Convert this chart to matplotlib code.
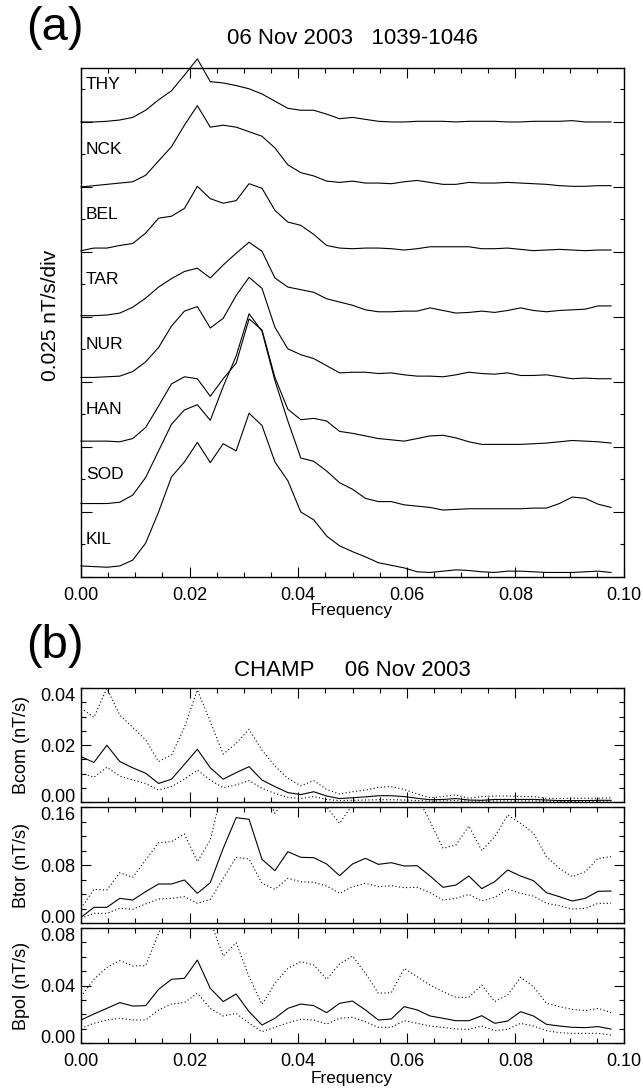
import numpy as np
import matplotlib
matplotlib.use("Agg")
import matplotlib.pyplot as plt
import matplotlib.transforms as mtransforms
from matplotlib.ticker import MultipleLocator, FormatStrFormatter

plt.rcParams['font.family'] = ['Liberation Sans', 'DejaVu Sans']

# frequency grid of the spectra (7-min window)
freq = np.arange(42) / 420.0

# ground stations, amplitude in divisions above each trace baseline (1 div = 0.025 nT/s)
div = 0.025
stations = ['KIL', 'SOD', 'HAN', 'NUR', 'TAR', 'BEL', 'NCK', 'THY']
kil = [0.17, 0.16, 0.15, 0.17, 0.26, 0.52, 1.00, 1.54, 1.77, 2.07, 1.76, 2.05, 1.94, 2.52, 2.33, 1.77, 1.48, 1.00, 0.88, 0.63, 0.48,
       0.39, 0.31, 0.22, 0.18, 0.14, 0.08, 0.07, 0.09, 0.11, 0.10, 0.08, 0.07, 0.09, 0.09, 0.08, 0.07, 0.07, 0.07, 0.08, 0.09, 0.07]
sod = [0.13, 0.13, 0.13, 0.15, 0.26, 0.53, 0.94, 1.35, 1.57, 1.65, 1.41, 1.93, 2.40, 3.05, 2.78, 2.02, 1.40, 0.83, 0.78, 0.63, 0.45,
       0.35, 0.21, 0.16, 0.16, 0.11, 0.09, 0.07, 0.03, 0.04, 0.05, 0.05, 0.05, 0.05, 0.05, 0.06, 0.06, 0.13, 0.23, 0.21, 0.12, 0.07]
han = [0.09, 0.09, 0.09, 0.08, 0.13, 0.30, 0.63, 0.97, 1.08, 1.05, 0.78, 1.05, 1.29, 1.97, 1.80, 1.07, 0.58, 0.42, 0.44, 0.40, 0.24,
       0.21, 0.17, 0.13, 0.11, 0.09, 0.13, 0.17, 0.18, 0.14, 0.08, 0.04, 0.04, 0.04, 0.04, 0.05, 0.06, 0.08, 0.10, 0.09, 0.08, 0.06]
nur = [0.07, 0.07, 0.08, 0.09, 0.16, 0.31, 0.53, 0.86, 1.09, 1.16, 0.83, 0.98, 1.33, 1.61, 1.44, 0.84, 0.51, 0.42, 0.36, 0.25, 0.14,
       0.15, 0.15, 0.13, 0.14, 0.11, 0.09, 0.09, 0.08, 0.11, 0.15, 0.13, 0.12, 0.14, 0.10, 0.10, 0.11, 0.08, 0.05, 0.06, 0.05, 0.05]
tar = [0.02, 0.02, 0.03, 0.06, 0.15, 0.29, 0.46, 0.59, 0.70, 0.75, 0.60, 0.80, 0.98, 1.15, 1.01, 0.60, 0.46, 0.42, 0.38, 0.28, 0.23,
       0.18, 0.11, 0.08, 0.08, 0.09, 0.09, 0.14, 0.10, 0.06, 0.07, 0.09, 0.07, 0.10, 0.14, 0.10, 0.08, 0.10, 0.11, 0.12, 0.17, 0.17]
bel = [0.02, 0.06, 0.06, 0.10, 0.13, 0.29, 0.52, 0.55, 0.67, 1.01, 0.82, 0.75, 0.79, 1.05, 0.98, 0.64, 0.46, 0.41, 0.27, 0.10, 0.06,
       0.05, 0.06, 0.06, 0.05, 0.03, 0.05, 0.08, 0.08, 0.08, 0.08, 0.05, 0.05, 0.06, 0.04, 0.02, 0.03, 0.04, 0.03, 0.02, 0.03, 0.03]
nck = [0.00, 0.02, 0.04, 0.06, 0.08, 0.18, 0.40, 0.62, 0.95, 1.25, 0.92, 0.95, 0.92, 0.85, 0.78, 0.60, 0.34, 0.22, 0.17, 0.09, 0.07,
       0.09, 0.06, 0.06, 0.05, 0.08, 0.10, 0.07, 0.04, 0.04, 0.07, 0.06, 0.06, 0.07, 0.06, 0.05, 0.04, 0.02, 0.01, 0.01, 0.02, 0.02]
thy = [0.00, 0.00, 0.01, 0.03, 0.07, 0.18, 0.34, 0.48, 0.72, 0.97, 0.62, 0.60, 0.56, 0.51, 0.43, 0.32, 0.21, 0.18, 0.18, 0.12, 0.05,
       0.07, 0.04, 0.01, 0.00, 0.00, 0.01, 0.01, 0.01, 0.00, 0.01, 0.01, 0.01, 0.00, 0.00, 0.01, 0.01, 0.01, 0.02, 0.00, 0.00, 0.00]
ground = [kil, sod, han, nur, tar, bel, nck, thy]

# CHAMP spectra (nT/s): median and bounds
bcom = [0.0159, 0.0139, 0.0199, 0.0142, 0.0120, 0.0101, 0.0065, 0.0080, 0.0132, 0.0185, 0.0120, 0.0080, 0.0103, 0.0124, 0.0077,
        0.0054, 0.0033, 0.0026, 0.0036, 0.0021, 0.0012, 0.0015, 0.0018, 0.0022, 0.0022, 0.0019, 0.0013, 0.0008, 0.0009, 0.0012,
        0.0007, 0.0006, 0.0009, 0.0009, 0.0009, 0.0009, 0.0007, 0.0005, 0.0005, 0.0005, 0.0006, 0.0006]
bcom_hi = [0.0329, 0.0297, 0.0399, 0.0305, 0.0262, 0.0218, 0.0142, 0.0165, 0.0262, 0.0393, 0.0282, 0.0168, 0.0206, 0.0255, 0.0182,
           0.0126, 0.0083, 0.0057, 0.0075, 0.0044, 0.0028, 0.0036, 0.0042, 0.0051, 0.0054, 0.0044, 0.0028, 0.0015, 0.0019, 0.0025,
           0.0013, 0.0019, 0.0021, 0.0021, 0.0019, 0.0019, 0.0013, 0.0012, 0.0013, 0.0013, 0.0013, 0.0015]
bcom_lo = [0.0101, 0.0087, 0.0122, 0.0091, 0.0077, 0.0065, 0.0042, 0.0054, 0.0080, 0.0112, 0.0077, 0.0050, 0.0060, 0.0075, 0.0048,
           0.0030, 0.0016, 0.0012, 0.0019, 0.0009, 0.0005, 0.0006, 0.0007, 0.0008, 0.0008, 0.0007, 0.0005, 0.0003, 0.0004, 0.0005,
           0.0003, 0.0003, 0.0004, 0.0004, 0.0004, 0.0004, 0.0003, 0.0002, 0.0002, 0.0002, 0.0003, 0.0003]
btor = [0.0078, 0.0216, 0.0216, 0.0340, 0.0317, 0.0432, 0.0538, 0.0538, 0.0593, 0.0409, 0.0556, 0.1030, 0.1453, 0.1430, 0.0878,
        0.0722, 0.0984, 0.0906, 0.0901, 0.0814, 0.0653, 0.0814, 0.0892, 0.0809, 0.0832, 0.0786, 0.0791, 0.0648, 0.0492, 0.0524,
        0.0648, 0.0474, 0.0570, 0.0731, 0.0648, 0.0584, 0.0418, 0.0363, 0.0303, 0.0340, 0.0437, 0.0441]
btor_hi = [0.0202, 0.0464, 0.0455, 0.0694, 0.0630, 0.0869, 0.1108, 0.1122, 0.1228, 0.0846, 0.1145, 0.1900, 0.2400, 0.2300, 0.1900,
           0.1513, 0.1750, 0.1900, 0.1800, 0.1600, 0.1375, 0.1630, 0.1900, 0.1850, 0.1900, 0.1850, 0.1750, 0.1398, 0.1030, 0.1076,
           0.1338, 0.0998, 0.1190, 0.1490, 0.1375, 0.1237, 0.0915, 0.0754, 0.0639, 0.0708, 0.0892, 0.0915]
btor_lo = [0.0064, 0.0133, 0.0133, 0.0202, 0.0189, 0.0262, 0.0331, 0.0340, 0.0363, 0.0271, 0.0326, 0.0616, 0.0906, 0.0883, 0.0547,
           0.0464, 0.0616, 0.0570, 0.0561, 0.0510, 0.0409, 0.0501, 0.0547, 0.0501, 0.0515, 0.0487, 0.0492, 0.0418, 0.0317, 0.0340,
           0.0395, 0.0303, 0.0354, 0.0464, 0.0409, 0.0372, 0.0271, 0.0239, 0.0193, 0.0202, 0.0271, 0.0271]
bpol = [0.0160, 0.0202, 0.0241, 0.0281, 0.0257, 0.0260, 0.0373, 0.0443, 0.0450, 0.0577, 0.0380, 0.0288, 0.0341, 0.0218, 0.0125,
        0.0172, 0.0241, 0.0271, 0.0260, 0.0211, 0.0276, 0.0292, 0.0230, 0.0160, 0.0167, 0.0253, 0.0230, 0.0188, 0.0172, 0.0155,
        0.0155, 0.0190, 0.0137, 0.0153, 0.0218, 0.0188, 0.0130, 0.0118, 0.0109, 0.0107, 0.0114, 0.0097]
bpol_hi = [0.0322, 0.0443, 0.0526, 0.0573, 0.0536, 0.0538, 0.0763, 0.0950, 0.1000, 0.1100, 0.0850, 0.0605, 0.0698, 0.0461, 0.0269,
           0.0415, 0.0519, 0.0566, 0.0543, 0.0443, 0.0550, 0.0605, 0.0485, 0.0346, 0.0350, 0.0519, 0.0461, 0.0403, 0.0357, 0.0318,
           0.0318, 0.0403, 0.0288, 0.0334, 0.0457, 0.0392, 0.0276, 0.0253, 0.0234, 0.0225, 0.0241, 0.0211]
bpol_lo = [0.0102, 0.0137, 0.0160, 0.0172, 0.0160, 0.0160, 0.0230, 0.0271, 0.0281, 0.0346, 0.0241, 0.0188, 0.0206, 0.0137, 0.0079,
           0.0109, 0.0141, 0.0165, 0.0160, 0.0132, 0.0172, 0.0179, 0.0148, 0.0109, 0.0109, 0.0155, 0.0137, 0.0118, 0.0109, 0.0097,
           0.0095, 0.0118, 0.0086, 0.0095, 0.0137, 0.0118, 0.0086, 0.0072, 0.0067, 0.0067, 0.0067, 0.0056]

W, H = 643.0, 1090.0
fs = 13


def style_ticks(ax, major_len=7.5, minor_len=3.6):
    ax.tick_params(which='both', direction='in', top=True, right=True, width=0.8, labelsize=fs, pad=7)
    ax.tick_params(which='major', length=major_len)
    ax.tick_params(which='minor', length=minor_len)
    for sp in ax.spines.values():
        sp.set_linewidth(1.0)


fig = plt.figure(figsize=(W / 100, H / 100), dpi=100)

# ---- panel (a): ground magnetometer spectra, stacked one division apart
ax = fig.add_axes([81 / W, 1 - 577 / H, 543 / W, 509 / H])
trans = mtransforms.blended_transform_factory(ax.transAxes, ax.transData)
for k, (name, amp) in enumerate(zip(stations, ground)):
    ax.plot(freq, (np.array(amp) + k) * div, color='k', lw=0.8, clip_on=False)
    ax.text(0.009, (k + 0.5) * div, name, transform=trans, fontsize=12.5, va='baseline', ha='left')
ax.set_xlim(0, 0.1)
ax.set_ylim(0, 7.83 * div)
ax.xaxis.set_major_locator(MultipleLocator(0.02))
ax.xaxis.set_minor_locator(MultipleLocator(0.005))
ax.xaxis.set_major_formatter(FormatStrFormatter('%.2f'))
ax.yaxis.set_major_locator(MultipleLocator(div))
ax.yaxis.set_minor_locator(MultipleLocator(div / 2))
ax.set_yticklabels([])
style_ticks(ax)
ax.tick_params(axis='y', which='major', length=8)
ax.tick_params(axis='y', which='minor', length=3)

fig.text(352 / W, 1 - 38 / H, '06 Nov 2003   1039-1046', ha='center', va='center', fontsize=16)
fig.text(55 / W, 1 - 28 / H, '(a)', ha='center', va='center', fontsize=34)
fig.text(51 / W, 1 - 315 / H, '0.025 nT/s/div', rotation=90, ha='center', va='center', fontsize=15)
fig.text(352 / W, 1 - 611 / H, 'Frequency', ha='center', va='center', fontsize=12.5)

# ---- panel (b): CHAMP spectra
panels = [
    ('Bcom (nT/s)', bcom, bcom_hi, bcom_lo, 0.04, 0.02, 0.005, 688, 802),
    ('Btor (nT/s)', btor, btor_hi, btor_lo, 0.16, 0.08, 0.02, 807, 923),
    ('Bpol (nT/s)', bpol, bpol_hi, bpol_lo, 0.08, 0.04, 0.01, 928, 1043),
]
for j, (lab, mid, hi, lo, ymax, maj, mnr, top, bot) in enumerate(panels):
    bx = fig.add_axes([81 / W, 1 - bot / H, 543 / W, (bot - top) / H])
    bx.plot(freq, mid, color='k', lw=0.8)
    bx.plot(freq, hi, color='k', lw=0.8, dashes=(1, 2.2))
    bx.plot(freq, lo, color='k', lw=0.8, dashes=(1, 2.2))
    bx.set_xlim(0, 0.1)
    bx.set_ylim(0, ymax)
    bx.xaxis.set_major_locator(MultipleLocator(0.02))
    bx.xaxis.set_minor_locator(MultipleLocator(0.005))
    bx.xaxis.set_major_formatter(FormatStrFormatter('%.2f'))
    bx.yaxis.set_major_locator(MultipleLocator(maj))
    bx.yaxis.set_minor_locator(MultipleLocator(mnr))
    bx.yaxis.set_major_formatter(FormatStrFormatter('%.2f'))
    style_ticks(bx)
    bx.tick_params(axis='y', pad=4)
    if j < 2:
        bx.tick_params(axis='x', labelbottom=False)
    # end labels sit inside the panel, as in the original
    locs = bx.yaxis.get_majorticklocs()
    for tick, loc in zip(bx.yaxis.get_major_ticks(), locs):
        if abs(loc) < 1e-9:
            tick.label1.set_verticalalignment('baseline')
        elif abs(loc - ymax) < 1e-9:
            tick.label1.set_verticalalignment('top')
    fig.text(22 / W, 1 - (top + bot) / 2 / H, lab, rotation=90, ha='center', va='center', fontsize=13)

fig.text(352 / W, 1 - 671 / H, 'CHAMP     06 Nov 2003', ha='center', va='center', fontsize=16)
fig.text(55 / W, 1 - 646 / H, '(b)', ha='center', va='center', fontsize=34)
fig.text(352 / W, 1 - 1078 / H, 'Frequency', ha='center', va='center', fontsize=12.5)

fig.savefig('out.png', dpi=100)
